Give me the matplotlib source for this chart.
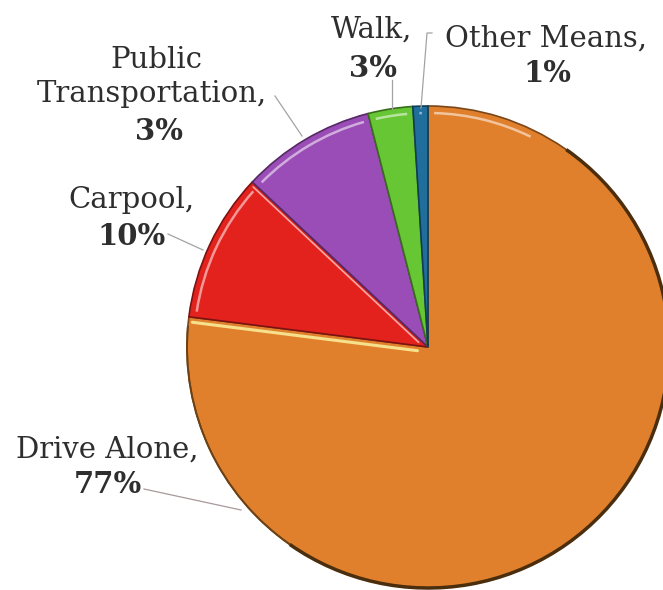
import matplotlib
matplotlib.use("Agg")
import numpy as np
import matplotlib.pyplot as plt
from matplotlib.patches import Arc
from matplotlib.colors import to_rgb

# commute mode shares (slice sizes) and the label text printed beside each slice
modes = ["Drive Alone", "Carpool", "Public Transportation", "Walk", "Other Means"]
share = [77, 10, 9, 3, 1]
pct_labels = ["77%", "10%", "3%", "3%", "1%"]
colors = ["#E0802C", "#E3221E", "#9A4DB6", "#66C633", "#1F6E9B"]

W, H = 663, 590
CX, CY, R = 428, H - 347, 241


def shade(c, f):
    r, g, b = to_rgb(c)
    return (r * f, g * f, b * f)


def tint(c, f):
    r, g, b = to_rgb(c)
    return (r + (1 - r) * f, g + (1 - g) * f, b + (1 - b) * f)


fig = plt.figure(figsize=(W / 100, H / 100), dpi=100)
ax = fig.add_axes([0, 0, 1, 1])

wedges, _ = ax.pie(share, colors=colors, startangle=90, counterclock=False,
                   center=(CX, CY), radius=R,
                   wedgeprops=dict(linewidth=1.2))
for w, c in zip(wedges, colors):
    w.set_edgecolor(shade(c, 0.55))


def wedge_span(w):
    t1, t2 = w.theta1, w.theta2
    if t2 <= 0:
        t1, t2 = t1 + 360, t2 + 360
    return t1, t2


# bevel highlight just inside the rim, only on the upper part of the pie
for w, c in zip(wedges, colors):
    t1, t2 = wedge_span(w)
    lo, hi = max(t1 + 1.5, 64), t2 - 1.5
    if hi > lo:
        ax.add_patch(Arc((CX, CY), 2 * (R - 7), 2 * (R - 7), theta1=lo, theta2=hi,
                         color=tint(c, 0.6), lw=1.8, alpha=0.9, zorder=3))


def radial(angle_deg, color, offset, lw=1.8):
    a = np.deg2rad(angle_deg)
    ux, uy = np.cos(a), np.sin(a)
    nx, ny = -uy, ux
    ax.plot([CX + ux * 10 + nx * offset, CX + ux * (R - 4) + nx * offset],
            [CY + uy * 10 + ny * offset, CY + uy * (R - 4) + ny * offset],
            color=color, lw=lw, zorder=3, solid_capstyle="round")


# pale edges: inside the drive alone slice along its carpool boundary,
# and inside the carpool slice along its transit boundary
car_lo, car_hi = wedge_span(wedges[1])
radial(car_hi, "#F7E08C", 5, lw=2.2)
radial(car_lo, tint(colors[1], 0.6), 3, lw=1.2)

# dark rim shadow round the lower right
ax.add_patch(Arc((CX, CY), 2 * R, 2 * R, theta1=-125, theta2=55,
                 color="#4A2E0E", lw=2.5, zorder=4))
ax.add_patch(Arc((CX, CY), 2 * R, 2 * R, theta1=175, theta2=235,
                 color="#6B4215", lw=1.4, zorder=4))

txt = dict(family="DejaVu Serif", fontsize=21, color="#2E2E2E",
           ha="center", va="baseline")
bold = dict(txt, fontweight="bold")


def put(x, y, s, style):
    ax.text(x, H - y, s, **style)


def leader(pts, color="#A3A3A3"):
    ax.plot([p[0] for p in pts], [H - p[1] for p in pts],
            color=color, lw=0.9, zorder=5)


# Drive Alone
put(107, 458, modes[0] + ",", txt)
put(108, 493, pct_labels[0], bold)
leader([(144, 489), (241, 510)], color="#A89A9A")

# Carpool
put(131, 208, modes[1] + ",", txt)
put(132, 245, pct_labels[1], bold)
leader([(168, 234), (203, 250)])

# Public Transportation
put(156, 68, "Public", txt)
put(152, 102, "Transportation,", txt)
put(159, 140, pct_labels[2], bold)
leader([(275, 96), (302, 136)])

# Walk
put(372, 38, modes[3] + ",", txt)
put(373, 77, pct_labels[3], bold)
leader([(392, 80), (392, 109)])

# Other Means
put(546, 47, modes[4] + ",", txt)
put(547, 82, pct_labels[4], bold)
leader([(432, 33), (427, 33), (421, 108)])

ax.set_xlim(0, W)
ax.set_ylim(0, H)
ax.set_aspect("equal")
ax.axis("off")

fig.savefig("out.png", dpi=100)
